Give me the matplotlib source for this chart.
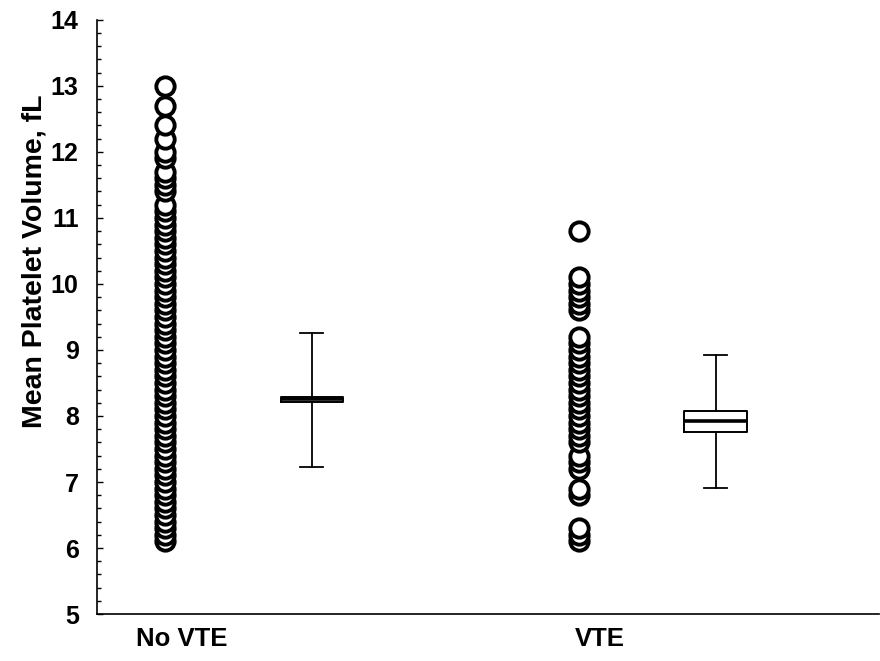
import matplotlib
matplotlib.use("Agg")
import matplotlib.pyplot as plt
from matplotlib.ticker import MultipleLocator

plt.rcParams['font.family'] = ['Liberation Sans', 'DejaVu Sans']
plt.rcParams['font.weight'] = 'bold'

# Data
groups = ['No VTE', 'VTE']

no_vte = [6.1, 6.2, 6.3, 6.4, 6.5, 6.6, 6.7, 6.8, 6.9, 7.0,
          7.1, 7.2, 7.3, 7.4, 7.5, 7.6, 7.7, 7.8, 7.9, 8.0,
          8.1, 8.2, 8.3, 8.4, 8.5, 8.6, 8.7, 8.8, 8.9, 9.0,
          9.1, 9.2, 9.3, 9.4, 9.5, 9.6, 9.7, 9.8, 9.9, 10.0,
          10.1, 10.2, 10.3, 10.4, 10.5, 10.6, 10.7, 10.8, 10.9, 11.0,
          11.1, 11.2, 11.4, 11.5, 11.6, 11.7, 11.9, 12.0, 12.2, 12.4,
          12.7, 13.0]
vte = [6.1, 6.2, 6.3, 6.8, 6.9, 7.2, 7.3, 7.4, 7.6, 7.7, 7.8, 7.9,
       8.0, 8.1, 8.2, 8.3, 8.4, 8.5, 8.6, 8.7, 8.8, 8.9, 9.0, 9.1,
       9.2, 9.6, 9.7, 9.8, 9.9, 10.0, 10.1, 10.8]

# box summaries (q1, median, q3, whisker low, whisker high)
box_q1 = [8.21, 7.76]
box_med = [8.25, 7.92]
box_q3 = [8.29, 8.08]
box_lo = [7.23, 6.91]
box_hi = [9.26, 8.93]

# Layout
dot_x = [1.0, 2.0]
box_x = [1.355, 2.33]
label_x = [1.04, 2.05]

fig = plt.figure(figsize=(8.8, 6.61), dpi=100)
ax = fig.add_axes([0.110, 0.071, 0.889, 0.899])

for x, vals in zip(dot_x, [no_vte, vte]):
    vals = sorted(vals)
    ax.plot([x] * len(vals), vals, linestyle='none', marker='o',
            markersize=13.2, markerfacecolor='white',
            markeredgecolor='black', markeredgewidth=2.8, zorder=3)

stats = []
for i in range(2):
    stats.append({'q1': box_q1[i], 'med': box_med[i], 'q3': box_q3[i],
                  'whislo': box_lo[i], 'whishi': box_hi[i], 'fliers': []})
ax.bxp(stats, positions=box_x, widths=0.15, showfliers=False,
       boxprops=dict(color='black', linewidth=1.4),
       medianprops=dict(color='black', linewidth=2.6),
       whiskerprops=dict(color='black', linewidth=1.3),
       capprops=dict(color='black', linewidth=1.3),
       capwidths=0.055, manage_ticks=False)

ax.set_xlim(0.836, 2.725)
ax.set_ylim(5, 14)
ax.set_xticks(label_x)
ax.set_xticklabels(groups, fontsize=18.5, fontweight='bold')
ax.tick_params(axis='x', length=0, pad=9)

ax.yaxis.set_major_locator(MultipleLocator(1))
ax.yaxis.set_minor_locator(MultipleLocator(0.2))
ax.tick_params(axis='y', which='major', direction='in', length=4,
               width=1.0, labelsize=18, pad=13)
ax.tick_params(axis='y', which='minor', direction='in', length=3, width=1.0)
for lab in ax.get_yticklabels():
    lab.set_fontweight('bold')

ax.set_ylabel('Mean Platelet Volume, fL', fontsize=20.5, fontweight='bold')
ax.yaxis.set_label_coords(-0.063, 0.594)

ax.spines['top'].set_visible(False)
ax.spines['right'].set_visible(False)
ax.spines['left'].set_linewidth(1.2)
ax.spines['bottom'].set_linewidth(1.2)

fig.savefig('out.png', dpi=100)
